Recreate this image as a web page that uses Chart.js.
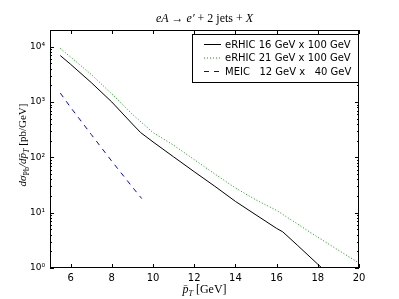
<!DOCTYPE html>
<html>
<head>
<meta charset="utf-8">
<script src="https://cdn.jsdelivr.net/npm/chart.js@4.4.1/dist/chart.umd.min.js"></script>
<style>
  html, body { margin: 0; padding: 0; background: #fff; }
  #wrap { width: 399px; height: 299px; }
</style>
</head>
<body>
<div id="wrap"><canvas id="c" width="399" height="299"></canvas></div>
<script>
// values (pT in GeV, cross section in pb/GeV)
var ptBlack = [5.5, 6, 7, 8, 9, 9.4, 10, 11, 12, 13, 14, 15, 16, 16.3, 17, 18, 18.2];
var sigBlack = [6900, 4800, 2250, 1000, 400, 280, 190, 102, 55, 30, 16, 9.1, 5.2, 4.5, 2.6, 1.17, 1.0];

var ptGreen = [5.5, 6, 7, 8, 9, 10, 11, 12, 13, 14, 15, 16, 17, 18, 19, 20];
var sigGreen = [9300, 6500, 3150, 1400, 600, 280, 166, 91, 50, 28, 17, 11, 6.3, 3.6, 2.1, 1.23];

var ptBlue = [5.5, 6, 7, 8, 9, 9.45];
var sigBlue = [1450, 800, 260, 85, 29, 18];

var seriesNames = ["eRHIC 16 GeV x 100 GeV", "eRHIC 21 GeV x 100 GeV", "MEIC   12 GeV x   40 GeV"];

var xTicks = [6, 8, 10, 12, 14, 16, 18, 20];
var yTicks = [1, 10, 100, 1000, 10000];
var yTickLabels = ["10\u2070", "10\u00b9", "10\u00b2", "10\u00b3", "10\u2074"];

function toPoints(xs, ys) {
    var pts = [];
    for (var i = 0; i < xs.length; i++) {
        pts.push({ x: xs[i], y: ys[i] });
    }
    return pts;
}

// draws a row of text pieces [text, font, dy]
function drawPieces(ctx, pieces, cx, cy) {
    var total = 0;
    for (var i = 0; i < pieces.length; i++) {
        ctx.font = pieces[i][1];
        total += ctx.measureText(pieces[i][0]).width;
    }
    var x = cx - total / 2;
    ctx.textAlign = "left";
    ctx.textBaseline = "alphabetic";
    for (var j = 0; j < pieces.length; j++) {
        ctx.font = pieces[j][1];
        ctx.fillText(pieces[j][0], x, cy + (pieces[j][2] || 0));
        x += ctx.measureText(pieces[j][0]).width;
    }
}

var serif = "'Liberation Serif', 'DejaVu Serif', serif";

var framePlugin = {
    id: "frame",
    afterDraw: function (chart) {
        var ctx = chart.ctx;
        var a = chart.chartArea;
        var sx = chart.scales.x;
        var sy = chart.scales.y;
        ctx.save();
        ctx.strokeStyle = "#000";
        ctx.lineWidth = 1;
        ctx.strokeRect(a.left + 0.5, a.top + 0.5, a.right - a.left - 1, a.bottom - a.top - 1);

        ctx.beginPath();
        xTicks.forEach(function (v) {
            var px = Math.round(sx.getPixelForValue(v)) + 0.5;
            ctx.moveTo(px, a.bottom); ctx.lineTo(px, a.bottom - 4);
            ctx.moveTo(px, a.top); ctx.lineTo(px, a.top + 4);
        });
        for (var d = 0; d <= 4; d++) {
            for (var k = 1; k <= 9; k++) {
                var v = k * Math.pow(10, d);
                if (v > sy.max) continue;
                var py = Math.round(sy.getPixelForValue(v)) + 0.5;
                var len = (k == 1) ? 4 : 2;
                ctx.moveTo(a.left, py); ctx.lineTo(a.left + len, py);
                ctx.moveTo(a.right, py); ctx.lineTo(a.right - len, py);
            }
        }
        ctx.stroke();

        // legend box
        var lx = a.left + 142, ly = a.top + 4, lw = 166, lh = 48;
        ctx.fillStyle = "#fff";
        ctx.fillRect(lx, ly, lw, lh);
        ctx.strokeStyle = "#000";
        ctx.strokeRect(lx + 0.5, ly + 0.5, lw, lh);
        chart.data.datasets.forEach(function (ds, i) {
            var yy = ly + 10 + i * 13.5;
            ctx.beginPath();
            ctx.strokeStyle = ds.borderColor;
            ctx.lineWidth = ds.borderWidth;
            ctx.setLineDash(ds.borderDash || []);
            ctx.moveTo(lx + 12, yy + 0.5);
            ctx.lineTo(lx + 29, yy + 0.5);
            ctx.stroke();
            ctx.setLineDash([]);
            ctx.fillStyle = "#000";
            ctx.font = "10px 'DejaVu Sans'";
            ctx.textAlign = "left";
            ctx.textBaseline = "middle";
            ctx.fillText(ds.label, lx + 33, yy + 1);
        });

        // title and axis labels
        ctx.fillStyle = "#000";
        var it = "italic 12px " + serif, rm = "12px " + serif;
        var itS = "italic 8px " + serif, rmS = "8px " + serif;
        drawPieces(ctx, [["eA", it], [" \u2192 ", rm], ["e\u2032", it], [" + 2 jets + ", rm], ["X", it]],
            (a.left + a.right) / 2, a.top - 8);
        drawPieces(ctx, [["p\u0304", it], ["T", itS, 3], [" [GeV]", rm]],
            (a.left + a.right) / 2, 293);
        var itY = "italic 11px " + serif, rmY = "11px " + serif;
        ctx.save();
        ctx.translate(26, 145);
        ctx.rotate(-Math.PI / 2);
        drawPieces(ctx, [["d\u03c3", itY], ["Pb", rmS, 3], ["/d", itY], ["p\u0304", itY], ["T", itS, 3], [" [pb/GeV]", rmY]], 0, 0);
        ctx.restore();
        ctx.restore();
    }
};

new Chart(document.getElementById("c"), {
    type: "line",
    data: {
        datasets: [{
            label: seriesNames[0],
            data: toPoints(ptBlack, sigBlack),
            borderColor: "#000000",
            borderWidth: 1,
            pointRadius: 0,
            tension: 0
        }, {
            label: seriesNames[1],
            data: toPoints(ptGreen, sigGreen),
            borderColor: "#00a000",
            borderWidth: 1,
            borderDash: [1, 2],
            pointRadius: 0,
            tension: 0
        }, {
            label: seriesNames[2],
            data: toPoints(ptBlue, sigBlue),
            borderColor: "#0000ff",
            borderWidth: 1,
            borderDash: [5, 5],
            pointRadius: 0,
            tension: 0
        }]
    },
    options: {
        responsive: false,
        animation: false,
        layout: { padding: { left: 0, right: 40, top: 30, bottom: 0 } },
        plugins: {
            legend: { display: false },
            tooltip: { enabled: false }
        },
        scales: {
            x: {
                type: "linear",
                min: 5,
                max: 20,
                afterBuildTicks: function (scale) {
                    scale.ticks = xTicks.map(function (v) { return { value: v }; });
                },
                afterFit: function (scale) { scale.height = 31; },
                grid: { display: false, drawTicks: false },
                border: { display: false },
                ticks: {
                    color: "#000",
                    padding: 4,
                    maxRotation: 0,
                    font: { family: "'DejaVu Sans'", size: 10 }
                }
            },
            y: {
                type: "logarithmic",
                min: 1,
                max: 20000,
                afterBuildTicks: function (scale) {
                    scale.ticks = yTicks.map(function (v) { return { value: v }; });
                },
                afterFit: function (scale) { scale.width = 50; },
                grid: { display: false, drawTicks: false },
                border: { display: false },
                ticks: {
                    color: "#000",
                    padding: 5,
                    font: { family: "'DejaVu Sans'", size: 9 },
                    callback: function (value) {
                        var i = yTicks.indexOf(value);
                        return i >= 0 ? yTickLabels[i] : "";
                    }
                }
            }
        }
    },
    plugins: [framePlugin]
});
</script>
</body>
</html>
